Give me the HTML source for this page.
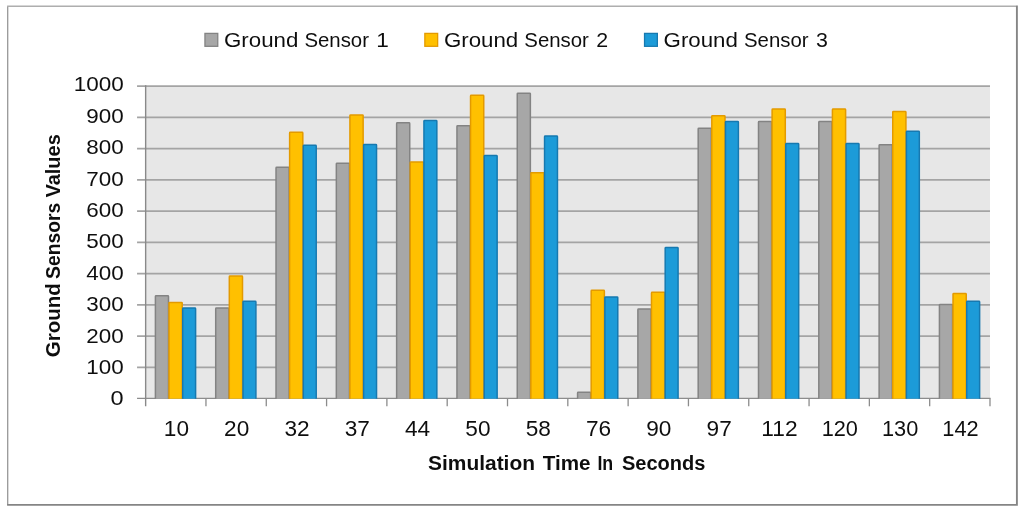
<!DOCTYPE html>
<html lang="en"><head><meta charset="utf-8"><title>Ground Sensors Values</title>
<style>html,body{margin:0;padding:0;background:#fff;overflow:hidden}svg{display:block}text{font-family:"Liberation Sans", sans-serif;fill:#111}</style>
</head><body>
<svg width="1024" height="513" viewBox="0 0 1024 513">
<rect x="0" y="0" width="1024" height="513" fill="#ffffff"/>
<g filter="url(#soft)">
<rect x="7.7" y="6.2" width="1009.1" height="498.7" fill="#ffffff" stroke="none"/>
<path d="M7.7 505 V6.2" fill="none" stroke="#989898" stroke-width="1.3"/>
<path d="M7.1 6.2 H1016" fill="none" stroke="#aeaeae" stroke-width="1.4"/>
<path d="M1016.9 5.6 V504.9 H7.1" fill="none" stroke="#858585" stroke-width="1.9"/>
<rect x="145.65" y="86.00" width="844.34" height="312.50" fill="#e7e7e7"/>
<line x1="137.05" y1="367.35" x2="989.99" y2="367.35" stroke="#a4a4a4" stroke-width="1.7"/>
<line x1="137.05" y1="336.10" x2="989.99" y2="336.10" stroke="#a4a4a4" stroke-width="1.7"/>
<line x1="137.05" y1="304.85" x2="989.99" y2="304.85" stroke="#a4a4a4" stroke-width="1.7"/>
<line x1="137.05" y1="273.60" x2="989.99" y2="273.60" stroke="#a4a4a4" stroke-width="1.7"/>
<line x1="137.05" y1="242.35" x2="989.99" y2="242.35" stroke="#a4a4a4" stroke-width="1.7"/>
<line x1="137.05" y1="211.10" x2="989.99" y2="211.10" stroke="#a4a4a4" stroke-width="1.7"/>
<line x1="137.05" y1="179.85" x2="989.99" y2="179.85" stroke="#a4a4a4" stroke-width="1.7"/>
<line x1="137.05" y1="148.60" x2="989.99" y2="148.60" stroke="#a4a4a4" stroke-width="1.7"/>
<line x1="137.05" y1="117.35" x2="989.99" y2="117.35" stroke="#a4a4a4" stroke-width="1.7"/>
<line x1="137.05" y1="86.10" x2="989.99" y2="86.10" stroke="#a4a4a4" stroke-width="1.7"/>
<line x1="137.05" y1="398.40" x2="990.59" y2="398.40" stroke="#8c8c8c" stroke-width="1.4"/>
<g clip-path="url(#barclip)">
<rect x="155.40" y="295.81" width="13.10" height="105.69" rx="0.7" fill="#a7a7a7" stroke="#838383" stroke-width="1.5"/>
<rect x="169.00" y="302.38" width="13.20" height="99.12" rx="0.7" fill="#ffc000" stroke="#e39a00" stroke-width="1.5"/>
<rect x="182.70" y="308.00" width="12.90" height="93.50" rx="0.7" fill="#1f9bd8" stroke="#1779b0" stroke-width="1.5"/>
<rect x="215.71" y="308.00" width="13.10" height="93.50" rx="0.7" fill="#a7a7a7" stroke="#838383" stroke-width="1.5"/>
<rect x="229.31" y="276.12" width="13.20" height="125.38" rx="0.7" fill="#ffc000" stroke="#e39a00" stroke-width="1.5"/>
<rect x="243.01" y="301.28" width="12.90" height="100.22" rx="0.7" fill="#1f9bd8" stroke="#1779b0" stroke-width="1.5"/>
<rect x="276.02" y="167.22" width="13.10" height="234.28" rx="0.7" fill="#a7a7a7" stroke="#838383" stroke-width="1.5"/>
<rect x="289.62" y="132.22" width="13.20" height="269.28" rx="0.7" fill="#ffc000" stroke="#e39a00" stroke-width="1.5"/>
<rect x="303.32" y="145.34" width="12.90" height="256.16" rx="0.7" fill="#1f9bd8" stroke="#1779b0" stroke-width="1.5"/>
<rect x="336.33" y="163.16" width="13.10" height="238.34" rx="0.7" fill="#a7a7a7" stroke="#838383" stroke-width="1.5"/>
<rect x="349.93" y="114.88" width="13.20" height="286.62" rx="0.7" fill="#ffc000" stroke="#e39a00" stroke-width="1.5"/>
<rect x="363.63" y="144.41" width="12.90" height="257.09" rx="0.7" fill="#1f9bd8" stroke="#1779b0" stroke-width="1.5"/>
<rect x="396.64" y="122.84" width="13.10" height="278.66" rx="0.7" fill="#a7a7a7" stroke="#838383" stroke-width="1.5"/>
<rect x="410.24" y="162.06" width="13.20" height="239.44" rx="0.7" fill="#ffc000" stroke="#e39a00" stroke-width="1.5"/>
<rect x="423.94" y="120.50" width="12.90" height="281.00" rx="0.7" fill="#1f9bd8" stroke="#1779b0" stroke-width="1.5"/>
<rect x="456.95" y="125.81" width="13.10" height="275.69" rx="0.7" fill="#a7a7a7" stroke="#838383" stroke-width="1.5"/>
<rect x="470.55" y="95.19" width="13.20" height="306.31" rx="0.7" fill="#ffc000" stroke="#e39a00" stroke-width="1.5"/>
<rect x="484.25" y="155.50" width="12.90" height="246.00" rx="0.7" fill="#1f9bd8" stroke="#1779b0" stroke-width="1.5"/>
<rect x="517.26" y="93.16" width="13.10" height="308.34" rx="0.7" fill="#a7a7a7" stroke="#838383" stroke-width="1.5"/>
<rect x="530.86" y="172.84" width="13.20" height="228.66" rx="0.7" fill="#ffc000" stroke="#e39a00" stroke-width="1.5"/>
<rect x="544.56" y="136.12" width="12.90" height="265.38" rx="0.7" fill="#1f9bd8" stroke="#1779b0" stroke-width="1.5"/>
<rect x="577.57" y="392.22" width="13.10" height="9.28" rx="0.7" fill="#a7a7a7" stroke="#838383" stroke-width="1.5"/>
<rect x="591.17" y="290.34" width="13.20" height="111.16" rx="0.7" fill="#ffc000" stroke="#e39a00" stroke-width="1.5"/>
<rect x="604.87" y="296.91" width="12.90" height="104.59" rx="0.7" fill="#1f9bd8" stroke="#1779b0" stroke-width="1.5"/>
<rect x="637.88" y="308.94" width="13.10" height="92.56" rx="0.7" fill="#a7a7a7" stroke="#838383" stroke-width="1.5"/>
<rect x="651.48" y="292.22" width="13.20" height="109.28" rx="0.7" fill="#ffc000" stroke="#e39a00" stroke-width="1.5"/>
<rect x="665.18" y="247.53" width="12.90" height="153.97" rx="0.7" fill="#1f9bd8" stroke="#1779b0" stroke-width="1.5"/>
<rect x="698.19" y="128.16" width="13.10" height="273.34" rx="0.7" fill="#a7a7a7" stroke="#838383" stroke-width="1.5"/>
<rect x="711.79" y="115.66" width="13.20" height="285.84" rx="0.7" fill="#ffc000" stroke="#e39a00" stroke-width="1.5"/>
<rect x="725.49" y="121.44" width="12.90" height="280.06" rx="0.7" fill="#1f9bd8" stroke="#1779b0" stroke-width="1.5"/>
<rect x="758.50" y="121.59" width="13.10" height="279.91" rx="0.7" fill="#a7a7a7" stroke="#838383" stroke-width="1.5"/>
<rect x="772.10" y="109.09" width="13.20" height="292.41" rx="0.7" fill="#ffc000" stroke="#e39a00" stroke-width="1.5"/>
<rect x="785.80" y="143.47" width="12.90" height="258.03" rx="0.7" fill="#1f9bd8" stroke="#1779b0" stroke-width="1.5"/>
<rect x="818.81" y="121.59" width="13.10" height="279.91" rx="0.7" fill="#a7a7a7" stroke="#838383" stroke-width="1.5"/>
<rect x="832.41" y="109.09" width="13.20" height="292.41" rx="0.7" fill="#ffc000" stroke="#e39a00" stroke-width="1.5"/>
<rect x="846.11" y="143.47" width="12.90" height="258.03" rx="0.7" fill="#1f9bd8" stroke="#1779b0" stroke-width="1.5"/>
<rect x="879.12" y="144.72" width="13.10" height="256.78" rx="0.7" fill="#a7a7a7" stroke="#838383" stroke-width="1.5"/>
<rect x="892.72" y="111.44" width="13.20" height="290.06" rx="0.7" fill="#ffc000" stroke="#e39a00" stroke-width="1.5"/>
<rect x="906.42" y="131.28" width="12.90" height="270.22" rx="0.7" fill="#1f9bd8" stroke="#1779b0" stroke-width="1.5"/>
<rect x="939.43" y="304.41" width="13.10" height="97.09" rx="0.7" fill="#a7a7a7" stroke="#838383" stroke-width="1.5"/>
<rect x="953.03" y="293.47" width="13.20" height="108.03" rx="0.7" fill="#ffc000" stroke="#e39a00" stroke-width="1.5"/>
<rect x="966.73" y="301.28" width="12.90" height="100.22" rx="0.7" fill="#1f9bd8" stroke="#1779b0" stroke-width="1.5"/>
</g>
<line x1="145.65" y1="85.20" x2="145.65" y2="406.30" stroke="#898989" stroke-width="1.4"/>
<line x1="205.96" y1="398.50" x2="205.96" y2="406.30" stroke="#8c8c8c" stroke-width="1.3"/>
<line x1="266.27" y1="398.50" x2="266.27" y2="406.30" stroke="#8c8c8c" stroke-width="1.3"/>
<line x1="326.58" y1="398.50" x2="326.58" y2="406.30" stroke="#8c8c8c" stroke-width="1.3"/>
<line x1="386.89" y1="398.50" x2="386.89" y2="406.30" stroke="#8c8c8c" stroke-width="1.3"/>
<line x1="447.20" y1="398.50" x2="447.20" y2="406.30" stroke="#8c8c8c" stroke-width="1.3"/>
<line x1="507.51" y1="398.50" x2="507.51" y2="406.30" stroke="#8c8c8c" stroke-width="1.3"/>
<line x1="567.82" y1="398.50" x2="567.82" y2="406.30" stroke="#8c8c8c" stroke-width="1.3"/>
<line x1="628.13" y1="398.50" x2="628.13" y2="406.30" stroke="#8c8c8c" stroke-width="1.3"/>
<line x1="688.44" y1="398.50" x2="688.44" y2="406.30" stroke="#8c8c8c" stroke-width="1.3"/>
<line x1="748.75" y1="398.50" x2="748.75" y2="406.30" stroke="#8c8c8c" stroke-width="1.3"/>
<line x1="809.06" y1="398.50" x2="809.06" y2="406.30" stroke="#8c8c8c" stroke-width="1.3"/>
<line x1="869.37" y1="398.50" x2="869.37" y2="406.30" stroke="#8c8c8c" stroke-width="1.3"/>
<line x1="929.68" y1="398.50" x2="929.68" y2="406.30" stroke="#8c8c8c" stroke-width="1.3"/>
<line x1="989.99" y1="398.50" x2="989.99" y2="406.30" stroke="#8c8c8c" stroke-width="1.3"/>
<text x="123.7" y="405.45" font-size="21" text-anchor="end" textLength="13.1" lengthAdjust="spacingAndGlyphs">0</text>
<text x="123.7" y="374.05" font-size="21" text-anchor="end" textLength="37.4" lengthAdjust="spacingAndGlyphs">100</text>
<text x="123.7" y="342.65" font-size="21" text-anchor="end" textLength="37.4" lengthAdjust="spacingAndGlyphs">200</text>
<text x="123.7" y="311.25" font-size="21" text-anchor="end" textLength="37.4" lengthAdjust="spacingAndGlyphs">300</text>
<text x="123.7" y="279.85" font-size="21" text-anchor="end" textLength="37.4" lengthAdjust="spacingAndGlyphs">400</text>
<text x="123.7" y="248.45" font-size="21" text-anchor="end" textLength="37.4" lengthAdjust="spacingAndGlyphs">500</text>
<text x="123.7" y="217.05" font-size="21" text-anchor="end" textLength="37.4" lengthAdjust="spacingAndGlyphs">600</text>
<text x="123.7" y="185.65" font-size="21" text-anchor="end" textLength="37.4" lengthAdjust="spacingAndGlyphs">700</text>
<text x="123.7" y="154.25" font-size="21" text-anchor="end" textLength="37.4" lengthAdjust="spacingAndGlyphs">800</text>
<text x="123.7" y="122.85" font-size="21" text-anchor="end" textLength="37.4" lengthAdjust="spacingAndGlyphs">900</text>
<text x="123.7" y="91.45" font-size="21" text-anchor="end" textLength="50.0" lengthAdjust="spacingAndGlyphs">1000</text>
<text x="176.41" y="435.6" font-size="21.2" text-anchor="middle" textLength="25.2" lengthAdjust="spacingAndGlyphs">10</text>
<text x="236.72" y="435.6" font-size="21.2" text-anchor="middle" textLength="25.2" lengthAdjust="spacingAndGlyphs">20</text>
<text x="297.03" y="435.6" font-size="21.2" text-anchor="middle" textLength="25.2" lengthAdjust="spacingAndGlyphs">32</text>
<text x="357.34" y="435.6" font-size="21.2" text-anchor="middle" textLength="25.2" lengthAdjust="spacingAndGlyphs">37</text>
<text x="417.64" y="435.6" font-size="21.2" text-anchor="middle" textLength="25.2" lengthAdjust="spacingAndGlyphs">44</text>
<text x="477.96" y="435.6" font-size="21.2" text-anchor="middle" textLength="25.2" lengthAdjust="spacingAndGlyphs">50</text>
<text x="538.26" y="435.6" font-size="21.2" text-anchor="middle" textLength="25.2" lengthAdjust="spacingAndGlyphs">58</text>
<text x="598.58" y="435.6" font-size="21.2" text-anchor="middle" textLength="25.2" lengthAdjust="spacingAndGlyphs">76</text>
<text x="658.88" y="435.6" font-size="21.2" text-anchor="middle" textLength="25.2" lengthAdjust="spacingAndGlyphs">90</text>
<text x="719.20" y="435.6" font-size="21.2" text-anchor="middle" textLength="25.2" lengthAdjust="spacingAndGlyphs">97</text>
<text x="779.50" y="435.6" font-size="21.2" text-anchor="middle" textLength="36.3" lengthAdjust="spacingAndGlyphs">112</text>
<text x="839.82" y="435.6" font-size="21.2" text-anchor="middle" textLength="36.3" lengthAdjust="spacingAndGlyphs">120</text>
<text x="900.12" y="435.6" font-size="21.2" text-anchor="middle" textLength="36.3" lengthAdjust="spacingAndGlyphs">130</text>
<text x="960.44" y="435.6" font-size="21.2" text-anchor="middle" textLength="36.3" lengthAdjust="spacingAndGlyphs">142</text>
<rect x="204.95" y="33.4" width="12.8" height="12.9" fill="#a7a7a7" stroke="#838383" stroke-width="1.3"/>
<text y="46.9" font-size="20.8"><tspan x="224.00" textLength="74.3" lengthAdjust="spacingAndGlyphs">Ground</tspan> <tspan x="304.40" textLength="64.6" lengthAdjust="spacingAndGlyphs">Sensor</tspan> <tspan x="376.30" textLength="12.6" lengthAdjust="spacingAndGlyphs">1</tspan></text>
<rect x="424.85" y="33.4" width="12.8" height="12.9" fill="#ffc000" stroke="#e39a00" stroke-width="1.3"/>
<text y="46.9" font-size="20.8"><tspan x="443.90" textLength="74.3" lengthAdjust="spacingAndGlyphs">Ground</tspan> <tspan x="524.30" textLength="64.6" lengthAdjust="spacingAndGlyphs">Sensor</tspan> <tspan x="596.20" textLength="11.9" lengthAdjust="spacingAndGlyphs">2</tspan></text>
<rect x="644.55" y="33.4" width="12.8" height="12.9" fill="#1f9bd8" stroke="#1779b0" stroke-width="1.3"/>
<text y="46.9" font-size="20.8"><tspan x="663.60" textLength="74.3" lengthAdjust="spacingAndGlyphs">Ground</tspan> <tspan x="744.00" textLength="64.6" lengthAdjust="spacingAndGlyphs">Sensor</tspan> <tspan x="815.90" textLength="11.9" lengthAdjust="spacingAndGlyphs">3</tspan></text>
<text y="469.9" font-size="19.4" font-weight="bold"><tspan x="428.0" textLength="107.0" lengthAdjust="spacingAndGlyphs">Simulation</tspan> <tspan x="542.7" textLength="47.8" lengthAdjust="spacingAndGlyphs">Time</tspan> <tspan x="597.4" textLength="15.8" lengthAdjust="spacingAndGlyphs">In</tspan> <tspan x="621.9" textLength="83.5" lengthAdjust="spacingAndGlyphs">Seconds</tspan></text>
<text transform="translate(60.2 356.9) rotate(-90)" y="0" font-size="19.4" font-weight="bold"><tspan x="-0.4" textLength="74.0" lengthAdjust="spacingAndGlyphs">Ground</tspan> <tspan x="77.9" textLength="76.3" lengthAdjust="spacingAndGlyphs">Sensors</tspan> <tspan x="159.4" textLength="63.3" lengthAdjust="spacingAndGlyphs">Values</tspan></text>
</g>
<defs><clipPath id="barclip"><rect x="0" y="0" width="1024" height="398.85"/></clipPath><filter id="soft" x="0" y="0" width="1024" height="513" filterUnits="userSpaceOnUse"><feGaussianBlur stdDeviation="0.45"/></filter></defs>
</svg>
</body></html>
